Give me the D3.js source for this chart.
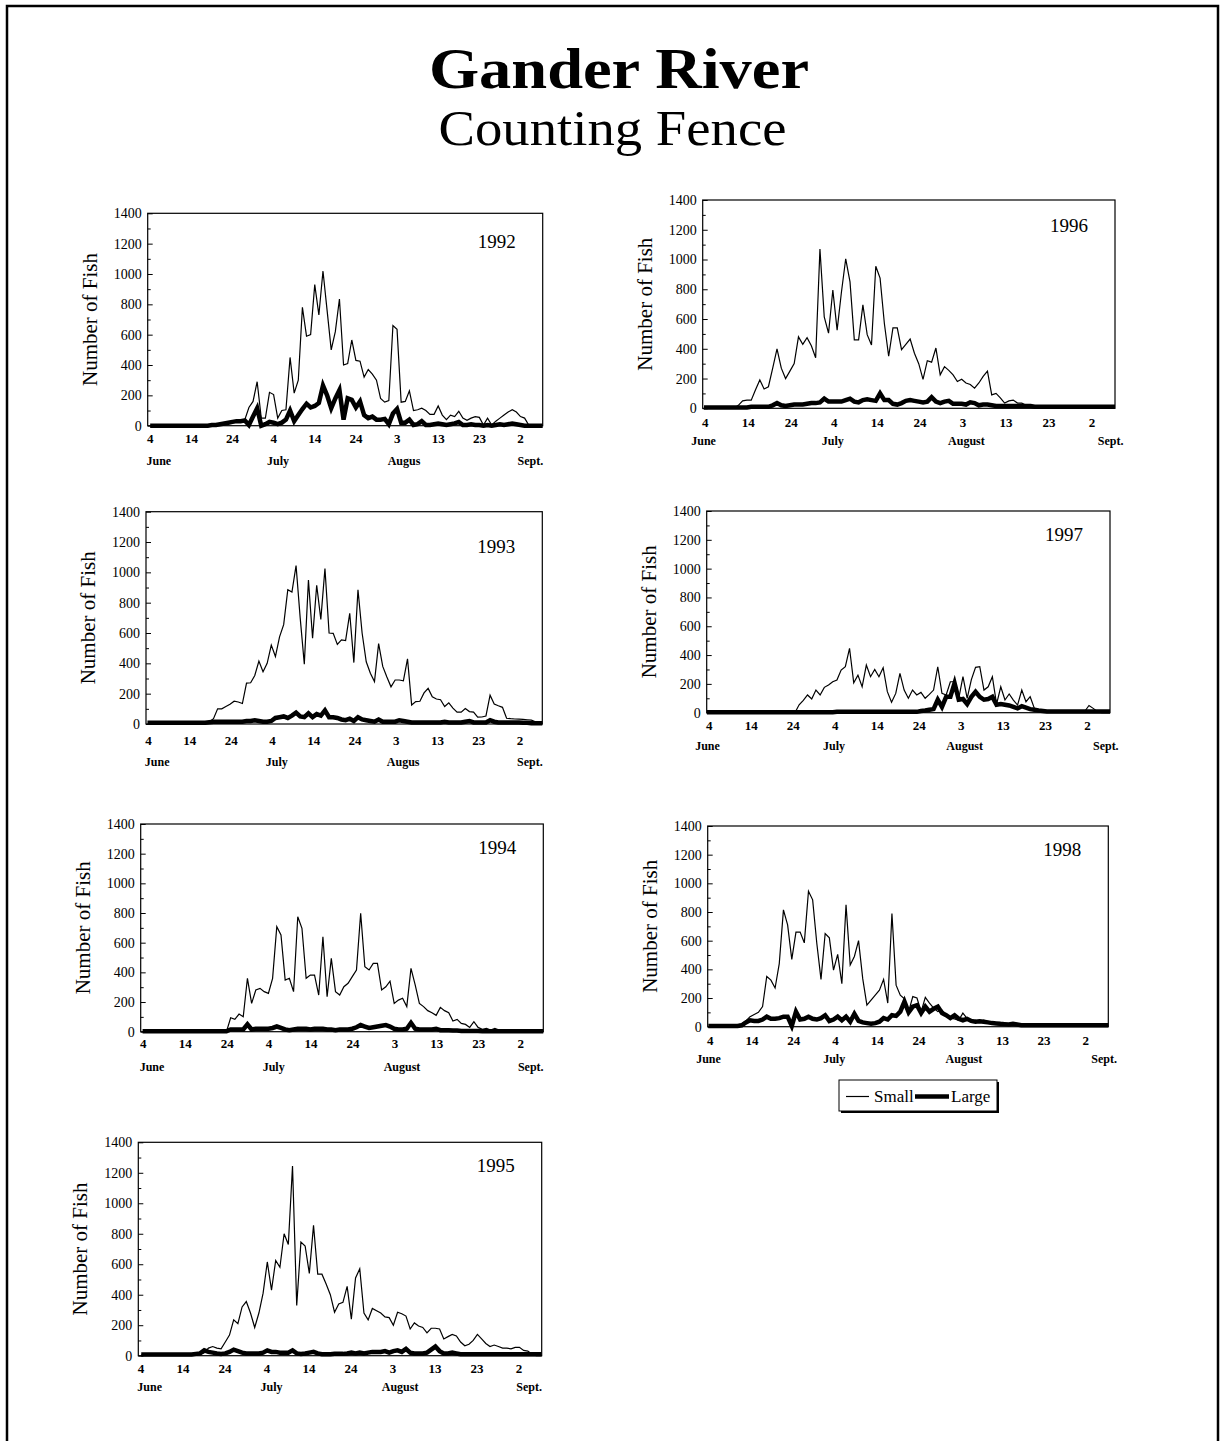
<!DOCTYPE html>
<html><head><meta charset="utf-8">
<script src="https://cdn.jsdelivr.net/npm/d3@7"></script>
<style>
html,body{margin:0;padding:0;background:#fff;}
svg{display:block;}
text{font-family:"Liberation Serif","Times New Roman",serif;fill:#000;}
</style>
</head><body>
<svg id="c" width="1224" height="1441"></svg>
<script>
// ---- DATA (daily counts, index 0 = June 4) ----
const yTicks = [0,200,400,600,800,1000,1200,1400];
const dayTicks = [0,10,20,30,40,50,60,70,80,90];
const dayTickLabels = ["4","14","24","4","14","24","3","13","23","2"];
const monthsShort = ["June","July","Augus","Sept."];
const monthsFull = ["June","July","August","Sept."];
const legendLabels = ["Small","Large"];

const small1992 = [0,0,0,0,0,0,0,0,0,0,0,0,0,0,0,
 5,10,15,20,25,30,35,35,40,
 120,160,290,50,50,220,205,50,100,105,
 450,215,300,780,590,600,930,730,1020,760,
 500,620,835,400,410,565,430,425,320,370,
 340,300,180,155,165,660,635,155,160,230,
 100,105,115,100,75,75,130,70,40,70,
 60,95,50,35,50,60,55,5,50,5,
 30,50,70,90,105,90,60,50,5,0,
 0,0,0];
const large1992 = [0,0,0,0,0,0,0,0,0,0,0,0,0,0,0,
 5,5,10,15,20,25,30,30,35,
 5,60,115,0,10,25,20,10,20,40,
 100,30,70,110,145,120,130,150,265,200,
 115,180,235,40,180,170,120,160,70,50,
 60,40,40,45,10,80,110,20,20,40,
 5,10,30,5,5,10,15,10,5,10,
 15,25,5,5,10,5,5,0,5,0,
 5,10,5,10,15,10,5,0,0,0,
 0,0,0];

const small1993 = [0,0,0,0,0,0,0,0,0,0,0,0,0,0,0,
 15,35,100,100,115,130,150,145,135,270,
 272,320,415,345,400,520,445,575,655,885,
 870,1045,700,395,950,565,915,690,1025,600,
 598,525,555,550,730,405,885,600,410,335,
 280,530,380,310,245,290,290,285,430,125,
 148,150,205,235,180,165,160,115,140,105,
 78,78,102,82,78,45,46,53,190,132,
 120,110,38,35,33,32,30,28,25,15,
 5,0];
const large1993 = [8,8,8,8,8,8,8,8,8,8,8,8,8,8,8,
 12,15,15,15,15,15,15,15,15,20,
 20,25,20,15,15,20,40,45,50,40,
 55,75,50,45,70,45,65,55,90,45,
 45,40,30,25,35,20,45,30,25,20,
 15,30,15,15,15,15,25,20,15,10,
 10,10,10,10,10,10,10,15,10,10,
 10,10,15,20,10,10,10,10,25,15,
 10,10,10,10,10,10,8,8,5,5,
 5,5];

const small1994 = [0,0,0,0,0,0,0,0,0,0,0,0,0,0,0,0,0,0,0,0,0,
 94,83,119,101,360,191,281,292,270,258,
 360,708,652,348,360,270,775,697,360,382,
 382,247,640,236,494,270,247,303,326,371,
 416,798,438,416,461,461,281,303,341,191,
 213,225,169,427,315,191,169,142,128,110,
 164,142,128,72,83,56,49,29,67,29,
 16,22,11,22,11,4,0,0,0,0,
 0,0,0,0,0,0];
const large1994 = [3,3,3,3,3,3,3,3,3,3,3,3,3,3,3,3,3,3,3,3,3,
 15,15,15,15,50,15,20,20,20,20,
 25,35,25,15,10,15,20,20,20,15,
 20,20,20,15,15,10,15,15,15,20,
 30,45,35,25,30,35,40,45,35,20,
 15,15,20,60,20,15,15,15,15,20,
 10,10,10,8,8,5,5,5,5,5,
 3,3,3,3,3,3,3,3,3,3,3,3,3,3,3,3];

const small1995 = [5,5,5,5,5,5,5,5,5,5,5,5,5,5,
 10,20,50,60,50,45,90,135,235,210,
 320,355,280,185,280,410,615,430,625,580,
 800,730,1245,330,745,720,540,855,535,535,
 470,400,285,340,350,455,240,510,570,280,
 235,310,295,280,255,250,200,285,275,260,
 175,215,195,185,150,180,180,175,110,125,
 140,130,90,65,75,100,140,110,80,60,
 70,60,50,50,45,55,55,35,30,10,
 0,0,0];
const large1995 = [8,8,8,8,8,8,8,8,8,8,8,8,8,12,
 15,35,25,20,15,12,15,25,40,30,
 20,15,15,15,15,20,35,25,25,20,
 20,20,35,15,12,15,20,25,15,10,
 10,10,12,12,12,15,20,15,20,15,
 20,25,25,25,30,20,30,35,25,45,
 20,15,15,15,20,40,60,30,15,15,
 20,15,10,10,10,10,10,10,10,10,
 10,10,10,10,10,10,10,10,10,10,
 10,10,10];

const small1996 = [0,0,0,0,0,0,0,0,
 20,50,55,55,125,190,130,145,270,400,
 270,200,250,300,480,430,475,420,340,1070,
 615,505,795,525,780,1005,850,460,460,695,
 495,425,955,875,570,350,540,540,395,430,
 465,370,300,195,320,310,405,225,280,255,
 225,180,195,170,160,135,170,215,250,90,
 100,70,35,50,55,35,35,20,15,10,
 5,0,0,0,0,0,0,0,0,0,0,0,0,0,0,0,0,0,0];
const large1996 = [5,5,5,5,5,5,5,5,5,5,5,
 10,10,10,10,10,20,35,20,15,20,
 25,25,25,30,35,35,40,65,45,45,
 45,45,55,65,45,40,55,60,55,50,
 100,55,55,30,25,35,50,55,50,45,
 40,45,75,45,35,45,50,30,30,30,
 25,40,35,20,25,25,20,15,15,15,
 15,15,15,15,15,15,10,10,10,10,
 10,10,10,10,10,10,10,10,10,10,
 10,10,10,10,10,10];

const small1997 = [0,0,0,0,0,0,0,0,0,0,0,0,0,0,0,0,0,0,0,0,0,0,
 55,85,123,95,157,123,176,192,215,227,
 296,320,447,208,261,180,331,250,300,250,
 312,146,72,134,273,157,100,157,123,141,
 100,127,157,319,134,123,215,215,100,250,
 100,230,315,320,157,180,250,60,180,88,
 130,88,53,157,76,111,30,18,10,10,
 10,10,10,10,10,10,10,10,10,50,
 30,8,0,0,0];
const large1997 = [3,3,3,3,3,3,3,3,3,3,3,3,3,3,3,3,3,3,3,3,3,3,3,3,3,3,3,3,3,3,3,
 6,6,6,6,6,6,6,6,6,6,6,6,6,6,6,6,6,6,6,6,
 12,15,20,25,90,40,110,110,205,90,
 95,60,110,145,110,90,95,110,55,60,
 55,50,40,30,45,35,25,20,15,12,
 8,8,8,8,8,8,8,8,8,8,8,8,8,8,8,8];

const small1998 = [0,0,0,0,0,0,
 5,12,20,40,70,85,100,140,350,325,
 270,440,815,710,470,660,660,585,945,885,
 580,330,650,620,395,505,300,850,430,490,
 600,335,150,185,220,255,330,165,790,290,
 220,195,105,210,200,105,205,165,130,105,
 115,80,60,55,45,95,58,35,45,30,
 45,30,23,16,12,12,14,16,10,8,
 8,8,8,8,8,8,8,8,8,8,8,8,8,8,8,8,8,8,8,8,8];
const large1998 = [5,5,5,5,5,5,5,5,
 10,30,45,40,40,50,70,55,55,60,
 70,70,5,105,50,55,70,55,50,60,
 80,40,50,70,45,70,35,90,40,30,
 25,20,25,35,60,50,80,75,105,175,
 100,140,150,95,140,105,125,140,95,80,
 60,80,55,45,55,40,35,38,35,30,
 25,23,20,18,16,20,15,10,10,10,
 10,10,10,10,10,10,10,10,10,10,10,10,10,10,10,10,10,10,10];

const seriesByYear = {
  1992:[small1992,large1992], 1993:[small1993,large1993], 1994:[small1994,large1994],
  1995:[small1995,large1995], 1996:[small1996,large1996], 1997:[small1997,large1997],
  1998:[small1998,large1998]
};

// ---- LAYOUT ----
const monthDaysLeft = [2.7, 31.7, 62.3, 93];
const monthDaysRight = [0.2, 30.3, 61.4, 95];
const panels = [
 {year:1992,l:147.7,r:542.7,t:213.3,b:425.7,shift:0.6,yearDy:35,tickDy:17.5,monthDy:39.5,right:false,months:monthsShort},
 {year:1993,l:146,r:542.3,t:511.7,b:724,shift:0.35,yearDy:41,tickDy:21,monthDy:42,right:false,months:monthsShort},
 {year:1994,l:140.7,r:543.3,t:824,b:1031.7,shift:0.45,yearDy:30,tickDy:16.5,monthDy:39,right:false,months:monthsFull},
 {year:1995,l:138.3,r:541.7,t:1142.3,b:1355.7,shift:0.7,yearDy:29.5,tickDy:17,monthDy:35,right:false,months:monthsFull},
 {year:1996,l:702.7,r:1115,t:200,b:408.3,shift:0.3,yearDy:32,tickDy:19,monthDy:37,right:true,months:monthsFull},
 {year:1997,l:706.7,r:1110,t:511,b:712.7,shift:0.0,yearDy:29.5,tickDy:17,monthDy:37,right:true,months:monthsFull},
 {year:1998,l:707.7,r:1108.3,t:826,b:1026.7,shift:0.15,yearDy:30,tickDy:18,monthDy:36.5,right:true,months:monthsFull}
];

const svg = d3.select("#c");
svg.append("rect").attr("x",7).attr("y",6).attr("width",1211).attr("height",1460)
  .attr("fill","none").attr("stroke","#000").attr("stroke-width",2.5);

svg.append("text").attr("x",619).attr("y",88).attr("text-anchor","middle")
  .attr("font-size",58).attr("font-weight","bold")
  .attr("textLength",380).attr("lengthAdjust","spacingAndGlyphs").text("Gander River");
svg.append("text").attr("x",612.5).attr("y",145).attr("text-anchor","middle")
  .attr("font-size",50)
  .attr("textLength",348).attr("lengthAdjust","spacingAndGlyphs").text("Counting Fence");

panels.forEach((p,pi) => {
  const [small, large] = seriesByYear[p.year];
  const x = d3.scaleLinear().domain([0,96]).range([p.l,p.r]);
  const y = d3.scaleLinear().domain([0,1400]).range([p.b,p.t]);
  const g = svg.append("g");

  const clipId = "clip"+pi;
  g.append("clipPath").attr("id",clipId).append("rect")
    .attr("x",p.l).attr("y",p.t-5).attr("width",p.r-p.l).attr("height",p.b-p.t+10);

  // y axis major & minor ticks (inside)
  const ya = g.append("g").attr("transform",`translate(${p.l},0)`)
    .call(d3.axisLeft(y).tickValues(yTicks).tickFormat(d3.format("d"))
      .tickSize(-5).tickSizeOuter(0).tickPadding(6));
  ya.select(".domain").remove();
  ya.selectAll("text").attr("font-size",14);
  ya.selectAll("line").attr("stroke-width",1);
  const ym = g.append("g").attr("transform",`translate(${p.l},0)`)
    .call(d3.axisLeft(y).tickValues(y.ticks(14).filter(v=>v%200!==0)).tickSize(-3).tickSizeOuter(0).tickFormat(""));
  ym.select(".domain").remove();

  // x axis labels
  const xoff = x(0.5)-x(0);
  const xa = g.append("g").attr("transform",`translate(${xoff},${p.b})`)
    .call(d3.axisBottom(x).tickValues(dayTicks).tickFormat((d,i)=>dayTickLabels[i]).tickSize(0).tickSizeOuter(0));
  xa.select(".domain").remove();
  xa.selectAll("text").attr("y",p.tickDy).attr("dy",null)
    .attr("font-size",13).attr("font-weight","bold");

  // month labels
  const md = p.right ? monthDaysRight : monthDaysLeft;
  g.selectAll("text.month").data(p.months).join("text").attr("class","month")
    .attr("x",(d,i)=>x(md[i])).attr("y",p.b+p.monthDy).attr("text-anchor","middle")
    .attr("font-size",12).attr("font-weight","bold").text(d=>d);

  // y title
  g.append("text").attr("transform",`translate(${p.l-51},${(p.t+p.b)/2}) rotate(-90)`)
    .attr("text-anchor","middle").attr("font-size",21).text("Number of Fish");

  // year label
  g.append("text").attr("x",p.r-46).attr("y",p.t+p.yearDy).attr("text-anchor","middle")
    .attr("font-size",19).text(p.year);

  // lines
  const line = d3.line().x((d,i)=>x(i+p.shift)).y(d=>y(d));
  const lg = g.append("g").attr("clip-path",`url(#${clipId})`);
  lg.append("path").datum(small).attr("d",line).attr("fill","none")
    .attr("stroke","#000").attr("stroke-width",1.2);
  lg.append("path").datum(large).attr("d",line).attr("fill","none")
    .attr("stroke","#000").attr("stroke-width",4.5);

  // frame
  g.append("rect").attr("x",p.l).attr("y",p.t).attr("width",p.r-p.l).attr("height",p.b-p.t)
    .attr("fill","none").attr("stroke","#000").attr("stroke-width",1.2);
});

// legend
const lgd = svg.append("g");
lgd.append("rect").attr("x",841).attr("y",1082).attr("width",158).attr("height",31).attr("fill","#000");
lgd.append("rect").attr("x",839).attr("y",1080).attr("width",158).attr("height",31)
  .attr("fill","#fff").attr("stroke","#000").attr("stroke-width",1);
lgd.append("line").attr("x1",846).attr("x2",869).attr("y1",1096.5).attr("y2",1096.5)
  .attr("stroke","#000").attr("stroke-width",1.2);
lgd.append("text").attr("x",874).attr("y",1102).attr("font-size",17).text(legendLabels[0]);
lgd.append("line").attr("x1",915).attr("x2",949).attr("y1",1096.5).attr("y2",1096.5)
  .attr("stroke","#000").attr("stroke-width",4.5);
lgd.append("text").attr("x",951).attr("y",1102).attr("font-size",17).text(legendLabels[1]);
</script>
</body></html>
